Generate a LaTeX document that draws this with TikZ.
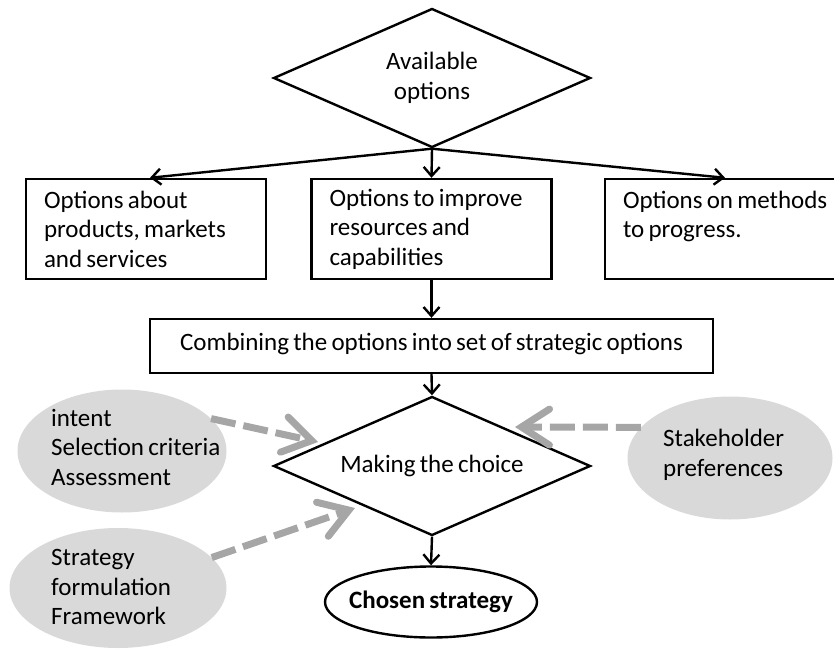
\documentclass[tikz,border=0pt]{standalone}
\usepackage{fontspec}
\setmainfont{Carlito}
\usetikzlibrary{shapes.geometric,arrows.meta}
\definecolor{ellgrey}{RGB}{217,217,217}
\definecolor{arrgrey}{RGB}{166,166,166}
\newcommand{\diagfont}{\fontsize{25}{29.5}\selectfont\spaceskip=0.17em plus 0.05em minus 0.03em\relax}
\newcommand{\firstline}[1]{\makebox[204pt][l]{#1}}
\begin{document}
\begin{tikzpicture}[x=1pt,y=1pt,
  every node/.style={font=\diagfont, text=black},
  optbox/.style={draw, line width=2.4pt, rectangle, minimum width=240pt, minimum height=100pt,
    align=left, inner xsep=0pt, inner ysep=0pt},
  decision/.style={draw, diamond, line width=2.4pt, minimum width=317pt, minimum height=139pt,
    inner sep=0pt, aspect=2.28, align=center, fill=white},
  flow/.style={line width=2.4pt, -{Straight Barb[length=9pt,width=16pt]}},
  greyell/.style={ellipse, fill=ellgrey, inner sep=0pt},
  elltext/.style={anchor=west, align=left, inner sep=0pt},
  influence/.style={draw=arrgrey, line width=7pt, dash pattern=on 25pt off 8pt,
    -{Straight Barb[length=28pt,width=36pt,line cap=round]}}
]
\useasboundingbox (0,0) rectangle (834,649);
\clip (0,0) rectangle (834,649);

% top decision
\node[decision] (d1) at (432,571) {Available\\options};

% option boxes
\node[optbox] (b1) at (146,420) {\firstline{Options about}\\products, markets\\and services};
\node[optbox] (b2) at (431.5,420) {\firstline{Options to improve}\\resources and\\capabilities};
\node[optbox] (b3) at (725,420) {\firstline{Options on methods}\\to progress.\\\mbox{}};

% combining box
\node[draw, line width=2.4pt, rectangle, minimum width=563pt, minimum height=54pt, inner sep=0pt]
  (cb) at (431.5,303) {\raisebox{9pt}{Combining the options into set of strategic options}};

% grey ellipses
\node[greyell, minimum width=209pt, minimum height=123pt] (e1) at (122,198) {};
\node[elltext] (e1t) at (51,202) {intent\\Selection criteria\\Assessment};
\node[greyell, minimum width=217pt, minimum height=120pt] (e2) at (118,61) {};
\node[elltext] (e2t) at (51,62) {Strategy\\formulation\\Framework};
\node[greyell, minimum width=205pt, minimum height=123pt] (e3) at (730,191) {};
\node[elltext] (e3t) at (663,194) {Stakeholder\\preferences};

% making the choice
\node[decision] (d2) at (432,183) {Making the choice};

% chosen strategy
\node[ellipse, draw, line width=2.4pt, fill=white, minimum width=212pt, minimum height=71pt, inner sep=0pt]
  (ch) at (431,47) {\makebox[0pt]{\bfseries Chosen strategy}};

% flow connectors
\draw[flow] (d1.south) -- (b2.north);
\draw[flow] (d1.south) -- ([xshift=4pt]b1.north);
\draw[flow] (d1.south) -- (b3.north);
\draw[flow] (b2.south) -- (cb.north);
\draw[flow] (cb.south) -- (d2.north);
\draw[flow] (d2.south) -- (ch.north);

% influence arrows
\coordinate (t1) at (318,207);
\coordinate (t2) at (355,141);
\coordinate (t3) at (515,222);
\draw[influence] (e1.20) -- (t1);
\draw[influence] (e2.18) -- (t2);
\draw[influence] (e3.161) -- (t3);
\end{tikzpicture}
\end{document}
